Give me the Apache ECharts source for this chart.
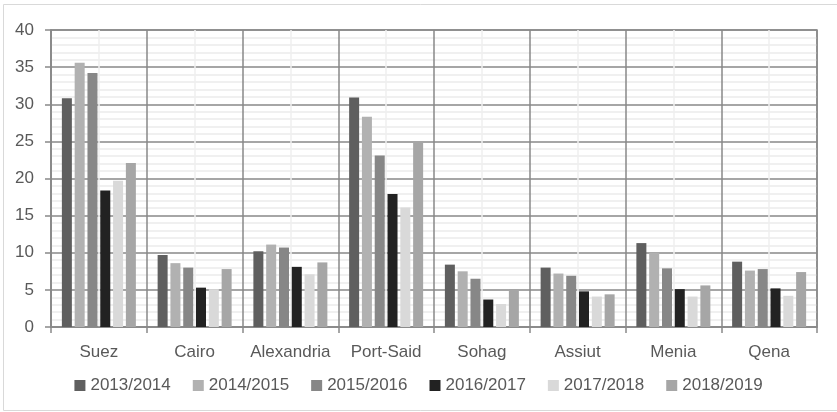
<html>
<meta charset="UTF-8">
<head>
    <script src="https://cdn.jsdelivr.net/npm/echarts@6/dist/echarts.min.js"></script>
</head>
<body style="margin:0">

<div id="barChart" style="width:837px;height:412px;"></div>

</body>
<script>
    var cities = ['Suez', 'Cairo', 'Alexandria', 'Port-Said', 'Sohag', 'Assiut', 'Menia', 'Qena'];
    var years = ['2013/2014', '2014/2015', '2015/2016', '2016/2017', '2017/2018', '2018/2019'];
    var colors = ['#5f5f5f', '#b1b1b1', '#878787', '#222222', '#d9d9d9', '#a6a6a6'];

    var v2013 = [30.8, 9.7, 10.2, 30.9, 8.4, 8.0, 11.3, 8.8];
    var v2014 = [35.6, 8.6, 11.1, 28.3, 7.5, 7.2, 10.0, 7.6];
    var v2015 = [34.2, 8.0, 10.7, 23.1, 6.5, 6.9, 7.9, 7.8];
    var v2016 = [18.4, 5.3, 8.1, 17.9, 3.7, 4.8, 5.1, 5.2];
    var v2017 = [19.7, 5.1, 7.1, 16.1, 3.1, 4.1, 4.1, 4.2];
    var v2018 = [22.1, 7.8, 8.7, 25.0, 5.1, 4.4, 5.6, 7.4];

    var yTicks = [0, 5, 10, 15, 20, 25, 30, 35, 40];

    var allValues = [v2013, v2014, v2015, v2016, v2017, v2018];

    var barChart = echarts.init(document.getElementById('barChart'));

    var series = [];
    for (var i = 0; i < years.length; i++) {
        series.push({
            name: years[i],
            type: 'bar',
            xAxisIndex: 0,
            barWidth: 10,
            barGap: '28%',
            itemStyle: {color: colors[i]},
            data: allValues[i]
        });
    }

    var option = {
        animation: false,
        textStyle: {fontFamily: 'Liberation Sans'},
        graphic: [{
            type: 'rect',
            shape: {x: 3.5, y: 4.5, width: 840, height: 406},
            style: {fill: 'none', stroke: '#d9d9d9', lineWidth: 1},
            silent: true
        }],
        grid: {
            left: 51, right: 20, top: 30, bottom: 85,
            show: true, borderColor: '#898989', borderWidth: 1.5
        },
        legend: {
            data: years,
            top: 372,
            left: 'center',
            itemWidth: 11,
            itemHeight: 11,
            itemGap: 22,
            icon: 'rect',
            textStyle: {fontSize: 17, color: '#595959', fontFamily: 'Liberation Sans'}
        },
        xAxis: [{
            type: 'category',
            data: cities,
            axisLine: {lineStyle: {color: '#898989', width: 1.5}},
            axisTick: {show: true, interval: 0, length: 6, lineStyle: {color: '#898989', width: 1.5}},
            axisLabel: {interval: 0, fontSize: 17, color: '#595959', margin: 17},
            splitLine: {show: true, interval: 0, lineStyle: {color: '#898989', width: 1.5}}
        }, {
            type: 'value',
            min: 0,
            max: 8,
            interval: 1,
            show: true,
            position: 'top',
            axisLine: {show: false},
            axisTick: {show: false},
            axisLabel: {show: false},
            splitLine: {show: false},
            minorTick: {show: false, splitNumber: 2},
            minorSplitLine: {show: true, lineStyle: {color: '#efefef', width: 1.5}}
        }],
        yAxis: {
            type: 'value',
            min: 0,
            max: 40,
            interval: 5,
            axisLine: {show: true, lineStyle: {color: '#898989', width: 1.5}},
            axisTick: {show: true, length: 6, lineStyle: {color: '#898989', width: 1.5}},
            axisLabel: {
                fontSize: 17, color: '#595959', margin: 17,
                formatter: function (v) {
                    return yTicks.indexOf(v) >= 0 ? String(v) : '';
                }
            },
            splitLine: {show: true, lineStyle: {color: '#898989', width: 1.5}},
            minorTick: {show: false, splitNumber: 5},
            minorSplitLine: {show: true, lineStyle: {color: '#ececec', width: 1.5}}
        },
        series: series
    };
    barChart.setOption(option);
</script>
</html>
